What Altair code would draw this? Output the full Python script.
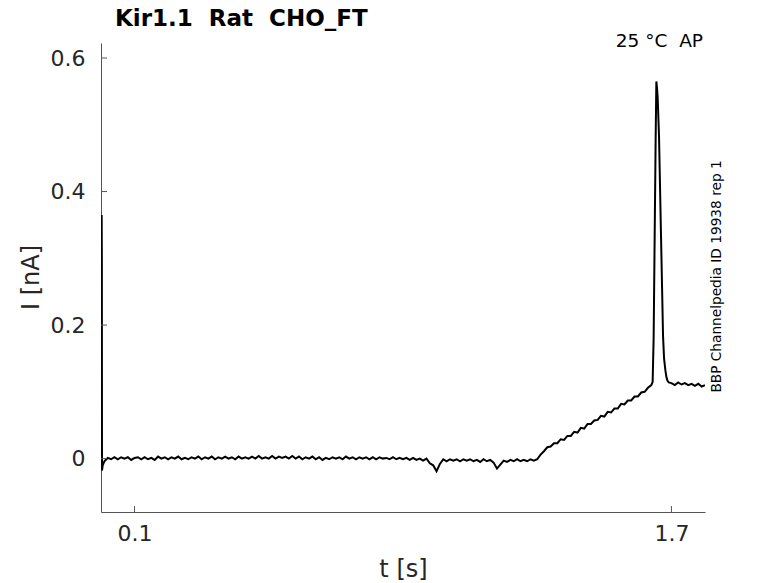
import altair as alt
import pandas as pd

# ---- data ----
t_start = [0.0015, 0.002, 0.0025, 0.003, 0.005]
i_start = [0.345, 0.365, 0.300, -0.018, -0.010]

t_base = [0.01, 0.02, 0.03, 0.04, 0.05, 0.06, 0.07, 0.08, 0.09, 0.10,
          0.11, 0.12, 0.13, 0.14, 0.15, 0.16, 0.17, 0.18, 0.19, 0.20,
          0.21, 0.22, 0.23, 0.24, 0.25, 0.26, 0.27, 0.28, 0.29, 0.30,
          0.31, 0.32, 0.33, 0.34, 0.35, 0.36, 0.37, 0.38, 0.39, 0.40,
          0.41, 0.42, 0.43, 0.44, 0.45, 0.46, 0.47, 0.48, 0.49, 0.50,
          0.51, 0.52, 0.53, 0.54, 0.55, 0.56, 0.57, 0.58, 0.59, 0.60,
          0.61, 0.62, 0.63, 0.64, 0.65, 0.66, 0.67, 0.68, 0.69, 0.70,
          0.71, 0.72, 0.73, 0.74, 0.75, 0.76, 0.77, 0.78, 0.79, 0.80,
          0.81, 0.82, 0.83, 0.84, 0.85, 0.86, 0.87, 0.88, 0.89, 0.90,
          0.91, 0.92, 0.93, 0.94, 0.95, 0.96, 0.97, 0.98, 0.99, 1.00,
          1.01, 1.02, 1.03, 1.04, 1.05, 1.06, 1.07, 1.08, 1.09, 1.10,
          1.11, 1.12, 1.13, 1.14, 1.15, 1.16, 1.17, 1.18, 1.19, 1.20,
          1.21, 1.22, 1.23, 1.24, 1.25, 1.26, 1.27, 1.28, 1.29, 1.30]
i_base = [-0.004, 0.001, -0.001, 0.002, -0.001, 0.002, 0.000, 0.002, -0.002, 0.001,
          0.002, -0.001, 0.002, -0.001, 0.001, -0.002, 0.003, 0.000, 0.002, -0.001,
          0.002, 0.000, 0.003, -0.001, 0.001, -0.001, 0.002, 0.000, 0.003, -0.001,
          0.002, 0.000, 0.003, -0.001, 0.002, 0.000, 0.003, 0.000, 0.002, -0.001,
          0.003, 0.000, 0.002, 0.000, 0.003, 0.000, 0.004, 0.000, 0.002, 0.000,
          0.004, 0.000, 0.003, 0.001, 0.003, 0.000, 0.004, 0.000, 0.003, -0.001,
          0.002, 0.000, 0.003, -0.001, 0.002, -0.002, 0.001, -0.001, 0.002, 0.000,
          0.002, -0.001, 0.003, 0.000, 0.002, -0.001, 0.002, 0.000, 0.002, -0.001,
          0.002, -0.001, 0.002, 0.000, 0.001, -0.001, 0.002, -0.001, 0.001, -0.001,
          0.001, -0.002, 0.001, -0.002, 0.000, -0.003, 0.000, -0.007, -0.010, -0.019,
          -0.008, -0.001, -0.004, -0.001, -0.003, -0.001, -0.004, -0.001, -0.003, -0.001,
          -0.004, -0.002, -0.005, -0.001, -0.004, -0.002, -0.006, -0.015, -0.009, -0.003,
          -0.005, -0.002, -0.004, -0.001, -0.004, -0.002, -0.004, -0.001, -0.003, -0.001]

t_ramp = [1.31, 1.32, 1.33, 1.34, 1.35, 1.36, 1.37, 1.38, 1.39, 1.40,
          1.41, 1.42, 1.43, 1.44, 1.45, 1.46, 1.47, 1.48, 1.49, 1.50,
          1.51, 1.52, 1.53, 1.54, 1.55, 1.56, 1.57, 1.58, 1.59, 1.60,
          1.61, 1.62, 1.63, 1.64, 1.644]
i_ramp = [0.006, 0.011, 0.017, 0.018, 0.023, 0.023, 0.029, 0.028, 0.034, 0.034,
          0.040, 0.039, 0.046, 0.045, 0.052, 0.052, 0.057, 0.058, 0.064, 0.063,
          0.070, 0.069, 0.075, 0.075, 0.082, 0.081, 0.087, 0.087, 0.093, 0.093,
          0.099, 0.100, 0.106, 0.110, 0.115]

t_spike = [1.647, 1.650, 1.653, 1.655, 1.657, 1.659, 1.663, 1.669, 1.675, 1.678, 1.682, 1.685, 1.688, 1.692]
i_spike = [0.183, 0.332, 0.482, 0.565, 0.555, 0.540, 0.482, 0.332, 0.183, 0.150, 0.132, 0.122, 0.117, 0.114]

t_plateau = [1.70, 1.71, 1.72, 1.73, 1.74, 1.75, 1.76, 1.77, 1.78, 1.79, 1.80]
i_plateau = [0.113, 0.110, 0.114, 0.111, 0.113, 0.110, 0.112, 0.109, 0.112, 0.108, 0.110]

x_ticks = [0.1, 1.7]
y_ticks = [0, 0.2, 0.4, 0.6]

NB = "\u00a0"
title_text = "Kir1.1" + NB + " Rat" + NB + " CHO_FT"
temp_text = "25 °C" + NB + " AP"
side_text = "BBP Channelpedia ID 19938 rep 1"

FONT = "DejaVu Sans"
W, H = 604, 469

trace = pd.DataFrame({
    "t": t_start + t_base + t_ramp + t_spike + t_plateau,
    "i": i_start + i_base + i_ramp + i_spike + i_plateau,
})

xs = alt.Scale(domain=[0, 1.8], nice=False, zero=False)
ys = alt.Scale(domain=[-0.08, 0.6225], nice=False, zero=False)

line = alt.Chart(trace).mark_line(color="black", strokeWidth=2.0, clip=True).encode(
    x=alt.X("t:Q", scale=xs, title="t [s]",
            axis=alt.Axis(values=x_ticks, format="~g", ticks=False, tickSize=0,
                          labelPadding=11, titleY=64, titleBaseline="alphabetic")),
    y=alt.Y("i:Q", scale=ys, title="I [nA]",
            axis=alt.Axis(values=y_ticks, format="~g", ticks=False, tickSize=0,
                          labelPadding=16, titleX=-63, titleY=234,
                          titleBaseline="alphabetic", titleAngle=270)),
)

xtick = alt.Chart(pd.DataFrame({"t": x_ticks})).mark_rule(color="#555555", strokeWidth=1).encode(
    x=alt.X("t:Q", scale=xs), y=alt.value(H), y2=alt.value(H - 6)
)
ytick = alt.Chart(pd.DataFrame({"i": y_ticks})).mark_rule(color="#555555", strokeWidth=1).encode(
    y=alt.Y("i:Q", scale=ys), x=alt.value(0), x2=alt.value(6)
)

title = alt.Chart(pd.DataFrame({"s": [title_text]})).mark_text(
    font=FONT, fontSize=23, fontWeight="bold", color="black", align="left", baseline="alphabetic"
).encode(text="s:N", x=alt.value(14), y=alt.value(-17))

temp = alt.Chart(pd.DataFrame({"s": [temp_text]})).mark_text(
    font=FONT, fontSize=18.5, color="black", align="right", baseline="alphabetic"
).encode(text="s:N", x=alt.value(602), y=alt.value(4))

side = alt.Chart(pd.DataFrame({"s": [side_text]})).mark_text(
    font=FONT, fontSize=13.7, color="black", align="center", baseline="alphabetic", angle=270
).encode(text="s:N", x=alt.value(619.5), y=alt.value(233.5))

chart = alt.layer(line, xtick, ytick, title, temp, side).properties(
    width=W, height=H,
    background="white",
    autosize=alt.AutoSizeParams(type="none"),
    padding={"left": 93, "top": 35, "right": 57, "bottom": 70},
).configure_view(stroke=None).configure_axis(
    grid=False, domainColor="#555555", domainWidth=1,
    labelFont=FONT, labelFontSize=22, labelColor="#262626",
    titleFont=FONT, titleFontSize=24, titleColor="#262626", titleFontWeight="normal",
)

chart.save("out.html", embed_options={"renderer": "svg", "actions": False})
